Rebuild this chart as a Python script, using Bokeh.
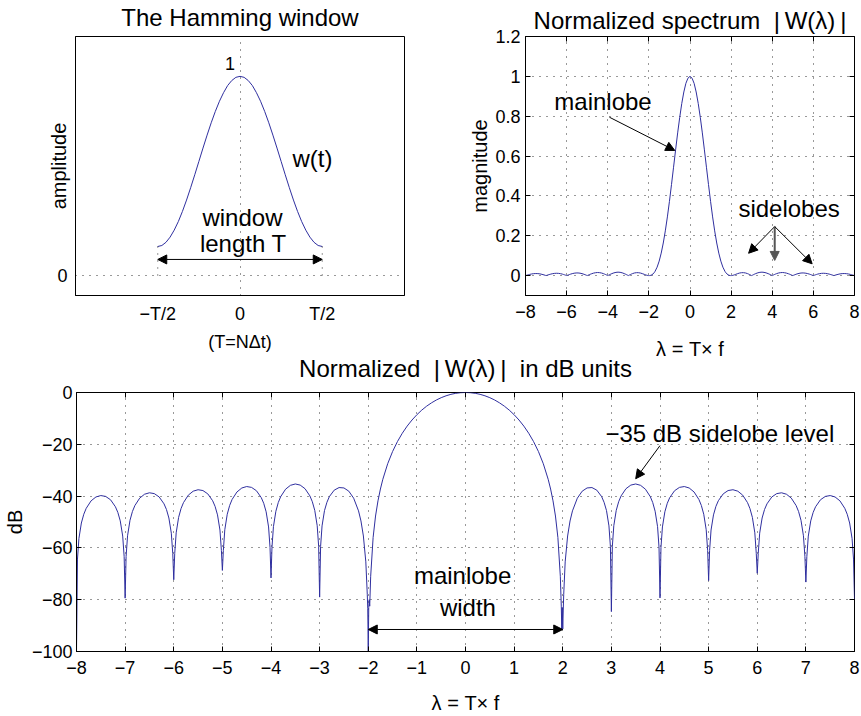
from bokeh.plotting import figure
from bokeh.layouts import column, row
from bokeh.models import (Range1d, FixedTicker, Label, Arrow, NormalHead, LinearAxis,
                          CustomJSTickFormatter)
from bokeh.embed import file_html
from bokeh.resources import INLINE

FONT = "Liberation Sans"
CURVE = "#2f2f9f"

# ---------------- data ----------------
# Hamming window (time in units of T)
T_POS = [-0.5, -0.475, -0.45, -0.425, -0.4, -0.375, -0.35, -0.325, -0.3, -0.275, -0.25,
         -0.225, -0.2, -0.175, -0.15, -0.125, -0.1, -0.075, -0.05, -0.025, 0.0,
         0.025, 0.05, 0.075, 0.1, 0.125, 0.15, 0.175, 0.2, 0.225, 0.25,
         0.275, 0.3, 0.325, 0.35, 0.375, 0.4, 0.425, 0.45, 0.475, 0.5]
W_VAL = [0.146, 0.151, 0.167, 0.193, 0.228, 0.271, 0.322, 0.379, 0.441, 0.506, 0.573,
         0.640, 0.705, 0.767, 0.824, 0.875, 0.918, 0.954, 0.979, 0.995, 1.0,
         0.995, 0.979, 0.954, 0.918, 0.875, 0.824, 0.767, 0.705, 0.640, 0.573,
         0.506, 0.441, 0.379, 0.322, 0.271, 0.228, 0.193, 0.167, 0.151, 0.146]
HALF_T = [-0.5, 0.5]
HALF_T_TICKS = [-0.5, 0, 0.5]
HALF_T_LABELS = ["\u2212T/2", "0", "T/2"]

# Normalized spectrum in dB, lambda = T*f
LAM_LEFT = [-8.0, -7.98, -7.95, -7.9, -7.85, -7.8, -7.7, -7.6, -7.5, -7.4, -7.3, -7.2, -7.15, -7.1, -7.05, -7.02,
            -7.0, -6.98, -6.95, -6.9, -6.85, -6.8, -6.7, -6.6, -6.5, -6.4, -6.3, -6.2, -6.15, -6.1, -6.05, -6.02,
            -6.0, -5.98, -5.95, -5.9, -5.85, -5.8, -5.7, -5.6, -5.5, -5.4, -5.3, -5.2, -5.15, -5.1, -5.05, -5.02,
            -5.0, -4.98, -4.95, -4.9, -4.85, -4.8, -4.7, -4.6, -4.5, -4.4, -4.3, -4.2, -4.15, -4.1, -4.05, -4.02,
            -4.0, -3.98, -3.95, -3.9, -3.85, -3.8, -3.7, -3.6, -3.5, -3.4, -3.3, -3.2, -3.15, -3.1, -3.05, -3.02,
            -3.0, -2.98, -2.95, -2.9, -2.85, -2.8, -2.7, -2.6, -2.5, -2.4, -2.3, -2.2, -2.15, -2.1, -2.05, -2.02, -2.01]
DB_LEFT = [-100.0, -64.31, -56.35, -50.39, -47.00, -44.71, -41.83, -40.33, -39.79, -40.13, -41.42, -44.10, -46.29, -49.57, -55.43, -63.33,
           -79.4, -63.29, -55.33, -49.36, -45.97, -43.67, -40.78, -39.27, -38.72, -39.04, -40.33, -42.99, -45.17, -48.46, -54.31, -62.20,
           -72.3, -62.16, -54.19, -48.22, -44.82, -42.52, -39.62, -38.10, -37.54, -37.86, -39.14, -41.79, -43.97, -47.25, -53.10, -60.99,
           -68.7, -60.95, -52.98, -47.01, -43.60, -41.30, -38.40, -36.87, -36.31, -36.64, -37.92, -40.59, -42.77, -46.05, -51.91, -59.80,
           -71.6, -59.77, -51.81, -45.86, -42.47, -40.19, -37.33, -35.84, -35.32, -35.75, -37.15, -39.93, -42.17, -45.51, -51.42, -59.35,
           -79.0, -59.4, -51.5, -45.6, -42.4, -40.2, -37.7, -36.7, -36.85, -38.1, -40.8, -45.7, -49.6, -55.4, -65.4, -77.9, -83.5]
LAM_MAIN = [-2.0, -1.99, -1.98, -1.97, -1.95, -1.9, -1.85, -1.8, -1.75, -1.7,
            -1.6, -1.5, -1.4, -1.3, -1.2, -1.1, -1.0, -0.9, -0.8, -0.7, -0.6, -0.5, -0.4, -0.3, -0.2, -0.1,
            0.0,
            0.1, 0.2, 0.3, 0.4, 0.5, 0.6, 0.7, 0.8, 0.9, 1.0, 1.1, 1.2, 1.3, 1.4, 1.5, 1.6,
            1.7, 1.75, 1.8, 1.85, 1.9, 1.95, 1.97, 1.98, 1.99, 2.0]
DB_MAIN = [-100.0, -83.0, -80.0, -82.5, -70.95, -55.97, -47.69, -41.84, -37.27, -33.50,
           -27.50, -22.80, -18.96, -15.73, -12.98, -10.62, -8.58, -6.81, -5.29, -4.00, -2.90, -2.00, -1.27, -0.71, -0.31, -0.08,
           0.0,
           -0.08, -0.31, -0.71, -1.27, -2.00, -2.90, -4.00, -5.29, -6.81, -8.58, -10.62, -12.98, -15.73, -18.96, -22.80, -27.50,
           -33.50, -37.27, -41.84, -47.69, -55.97, -70.95, -82.5, -91.3, -83.0, -91.3]
LAM_RIGHT = [2.01, 2.02, 2.05, 2.1, 2.15, 2.2, 2.3, 2.4, 2.5, 2.6, 2.7, 2.8, 2.85, 2.9, 2.95, 2.98,
             3.0, 3.02, 3.05, 3.1, 3.15, 3.2, 3.3, 3.4, 3.5, 3.6, 3.7, 3.8, 3.85, 3.9, 3.95, 3.98,
             4.0, 4.02, 4.05, 4.1, 4.15, 4.2, 4.3, 4.4, 4.5, 4.6, 4.7, 4.8, 4.85, 4.9, 4.95, 4.98,
             5.0, 5.02, 5.05, 5.1, 5.15, 5.2, 5.3, 5.4, 5.5, 5.6, 5.7, 5.8, 5.85, 5.9, 5.95, 5.98,
             6.0, 6.02, 6.05, 6.1, 6.15, 6.2, 6.3, 6.4, 6.5, 6.6, 6.7, 6.8, 6.85, 6.9, 6.95, 6.98,
             7.0, 7.02, 7.05, 7.1, 7.15, 7.2, 7.3, 7.4, 7.5, 7.6, 7.7, 7.8, 7.85, 7.9, 7.95, 7.98,
             8.0]
DB_RIGHT = [-84.0, -77.9, -65.4, -55.4, -49.6, -45.7, -40.8, -38.1, -36.85, -36.7, -37.7, -40.2, -42.4, -45.6, -51.5, -59.4,
            -84.6, -59.35, -51.42, -45.51, -42.17, -39.93, -37.15, -35.75, -35.32, -35.84, -37.33, -40.19, -42.47, -45.86, -51.81, -59.77,
            -79.3, -59.80, -51.91, -46.05, -42.77, -40.59, -37.92, -36.64, -36.31, -36.87, -38.40, -41.30, -43.60, -47.01, -52.98, -60.95,
            -72.6, -60.99, -53.10, -47.25, -43.97, -41.79, -39.14, -37.86, -37.54, -38.10, -39.62, -42.52, -44.82, -48.22, -54.19, -62.16,
            -69.8, -62.20, -54.31, -48.46, -45.17, -42.99, -40.33, -39.04, -38.72, -39.27, -40.78, -43.67, -45.97, -49.36, -55.33, -63.29,
            -73.2, -63.33, -55.43, -49.57, -46.29, -44.10, -41.42, -40.13, -39.79, -40.33, -41.83, -44.71, -47.00, -50.39, -56.35, -64.31,
            -79.7]

X_TICKS_MAG = [-8, -6, -4, -2, 0, 2, 4, 6, 8]
Y_TICKS_MAG = [0, 0.2, 0.4, 0.6, 0.8, 1.0, 1.2]
Y_LABELS_MAG = ["0", "0.2", "0.4", "0.6", "0.8", "1", "1.2"]
X_TICKS_DB = [-8, -7, -6, -5, -4, -3, -2, -1, 0, 1, 2, 3, 4, 5, 6, 7, 8]
Y_TICKS_DB = [-100, -80, -60, -40, -20, 0]

LAMBDA = LAM_LEFT + LAM_MAIN + LAM_RIGHT
DB = DB_LEFT + DB_MAIN + DB_RIGHT
MAG = [10 ** (d / 20.0) for d in DB]

NB = "\u00a0"
TS = "\u2009"


def lab(v):
    return ("%g" % v).replace("-", "\u2212")


def make_fig(width, height, xr, yr, left, right, top, bottom):
    p = figure(width=width, height=height, x_range=Range1d(*xr), y_range=Range1d(*yr),
               output_backend="svg", toolbar_location=None,
               min_border_left=left, min_border_right=right,
               min_border_top=top, min_border_bottom=bottom)
    p.outline_line_color = "black"
    p.outline_line_width = 1
    p.background_fill_color = "white"
    p.border_fill_color = "white"
    for ax in (p.xaxis[0], p.yaxis[0]):
        ax.axis_line_color = "black"
        ax.major_tick_in = 5
        ax.major_tick_out = 0
        ax.major_tick_line_color = "black"
        ax.minor_tick_line_color = None
        ax.major_label_text_font = FONT
        ax.major_label_text_font_size = "18px"
        ax.major_label_text_color = "black"
        ax.axis_label_text_font = FONT
        ax.axis_label_text_font_size = "20px"
        ax.axis_label_text_font_style = "normal"
        ax.axis_label_text_color = "black"
    p.grid.grid_line_color = "black"
    p.grid.grid_line_dash = "1 6"
    p.grid.grid_line_alpha = 0.8
    return p


def frame_axes(p, xt, yt, title, title_standoff):
    """Top axis carries inward ticks and the panel title; right axis carries inward ticks."""
    top = LinearAxis(ticker=FixedTicker(ticks=xt),
                     formatter=CustomJSTickFormatter(code="return ''"),
                     major_label_text_font_size="1px", major_label_standoff=0,
                     major_tick_in=5, major_tick_out=0,
                     axis_line_color=None, minor_tick_line_color=None,
                     major_tick_line_color="black" if xt else None,
                     axis_label=title, axis_label_standoff=title_standoff,
                     axis_label_text_font=FONT, axis_label_text_font_size="24px",
                     axis_label_text_font_style="normal", axis_label_text_color="black")
    p.add_layout(top, "above")
    if yt:
        right = LinearAxis(ticker=FixedTicker(ticks=yt),
                           formatter=CustomJSTickFormatter(code="return ''"),
                           major_label_text_font_size="1px", major_label_standoff=0,
                           major_tick_in=5, major_tick_out=0,
                           axis_line_color=None, minor_tick_line_color=None,
                           major_tick_line_color="black")
        p.add_layout(right, "right")


def text(p, x, y, s, size="24px", align="center"):
    p.add_layout(Label(x=x, y=y, text=s, text_font=FONT, text_font_size=size,
                       text_align=align, text_baseline="alphabetic", text_color="black"))


def arrow(p, x0, y0, x1, y1, double=False, color="black", width=1):
    head = NormalHead(size=9, fill_color=color, line_color=color)
    start = NormalHead(size=9, fill_color=color, line_color=color) if double else None
    p.add_layout(Arrow(start=start, end=head, x_start=x0, y_start=y0, x_end=x1, y_end=y1,
                       line_color=color, line_width=width))


TOP_H = 380      # height of the upper row canvases
OVERLAP = 38     # the lower canvas slides up under the upper row's empty bottom margin

# ---------------- panel 1: Hamming window ----------------
p1 = make_fig(430, TOP_H, (-1, 1), (-0.1, 1.2), 75, 26, 36, TOP_H - 295)
p1.xaxis.ticker = FixedTicker(ticks=HALF_T_TICKS)
p1.xaxis.major_label_overrides = dict(zip(HALF_T_TICKS, HALF_T_LABELS))
p1.yaxis.ticker = FixedTicker(ticks=[0])
p1.xaxis.major_tick_line_color = None
p1.yaxis.major_tick_line_color = None
p1.xaxis.major_label_standoff = 8
p1.yaxis.major_label_standoff = 8
p1.xaxis.axis_label = "(T=N\u0394t)"
p1.xaxis.axis_label_text_font_size = "18px"
p1.xaxis.axis_label_standoff = 5
p1.yaxis.axis_label = "amplitude"
p1.yaxis.axis_label_standoff = -16
p1.xgrid.ticker = FixedTicker(ticks=[0])
p1.ygrid.ticker = FixedTicker(ticks=[0])
frame_axes(p1, [], None, "The Hamming window", 6)
p1.line(T_POS, W_VAL, line_color=CURVE, line_width=1)
p1.segment(x0=HALF_T, y0=[W_VAL[0], W_VAL[-1]], x1=HALF_T, y1=[0, 0],
           line_color="black", line_dash="1 6", line_alpha=0.8)
arrow(p1, -0.5, 0.081, 0.5, 0.081, double=True)
text(p1, -0.06, 1.063, "1", size="18px")
text(p1, 0.319, 0.586, "w(t)", align="left")
text(p1, 0.015, 0.293, "window")
text(p1, 0.02, 0.162, "length T")

# ---------------- panel 2: linear spectrum ----------------
p2 = make_fig(431, TOP_H, (-8, 8), (-0.1, 1.2), 95, 7, 36, TOP_H - 295)
p2.xaxis.ticker = FixedTicker(ticks=X_TICKS_MAG)
p2.xaxis.major_label_overrides = {v: lab(v) for v in X_TICKS_MAG}
p2.yaxis.ticker = FixedTicker(ticks=Y_TICKS_MAG)
p2.yaxis.major_label_overrides = dict(zip(Y_TICKS_MAG, Y_LABELS_MAG))
p2.xaxis.major_label_standoff = 9
p2.yaxis.major_label_standoff = 5
p2.xaxis.axis_label = "\u03bb = T\u00d7 f"
p2.xaxis.axis_label_standoff = 17
p2.yaxis.axis_label = "magnitude"
p2.yaxis.axis_label_standoff = 1
p2.xgrid.ticker = FixedTicker(ticks=X_TICKS_MAG)
p2.ygrid.ticker = FixedTicker(ticks=Y_TICKS_MAG)
frame_axes(p2, X_TICKS_MAG, Y_TICKS_MAG,
           "Normalized spectrum" + NB + NB + "|" + TS + "W(\u03bb)" + TS + "|", 3)
p2.line(LAMBDA, MAG, line_color=CURVE, line_width=1)
text(p2, -4.23, 0.875, "mainlobe")
arrow(p2, -3.92, 0.795, -0.74, 0.628)
text(p2, 4.82, 0.335, "sidelobes")
arrow(p2, 4.12, 0.246, 2.85, 0.112)
arrow(p2, 4.12, 0.246, 4.12, 0.076, color="#555555", width=2)
arrow(p2, 4.12, 0.246, 5.94, 0.059)

# ---------------- panel 3: spectrum in dB ----------------
p3_top = TOP_H - OVERLAP
p3 = make_fig(861, 716 - p3_top, (-8, 8), (-100, 0), 75, 7, 392 - p3_top, 65)
p3.border_fill_color = None
p3.margin = (-OVERLAP, 0, 0, 0)
p3.xaxis.ticker = FixedTicker(ticks=X_TICKS_DB)
p3.xaxis.major_label_overrides = {v: lab(v) for v in X_TICKS_DB}
p3.yaxis.ticker = FixedTicker(ticks=Y_TICKS_DB)
p3.yaxis.major_label_overrides = {v: lab(v) for v in Y_TICKS_DB}
p3.xaxis.major_label_standoff = 9
p3.yaxis.major_label_standoff = 4
p3.xaxis.axis_label = "\u03bb = T\u00d7 f"
p3.xaxis.axis_label_standoff = 15
p3.yaxis.axis_label = "dB"
p3.yaxis.axis_label_standoff = 3
p3.xgrid.ticker = FixedTicker(ticks=X_TICKS_DB)
p3.ygrid.ticker = FixedTicker(ticks=Y_TICKS_DB)
frame_axes(p3, X_TICKS_DB, Y_TICKS_DB,
           "Normalized" + NB + NB + "|" + TS + "W(\u03bb)" + TS + "|" + NB + NB + "in dB units", 11)
p3.line(LAMBDA, DB, line_color=CURVE, line_width=1)
text(p3, 5.23, -16.0, "\u221235 dB sidelobe level")
arrow(p3, 4.0, -20.5, 3.5, -33.3)
text(p3, -0.06, -70.7, "mainlobe")
text(p3, 0.05, -83.2, "width")
arrow(p3, -2, -91.5, 2, -91.5, double=True)

layout = column(row(p1, p2, spacing=0), p3, spacing=0)
open("out.html", "w").write(file_html(layout, INLINE))
